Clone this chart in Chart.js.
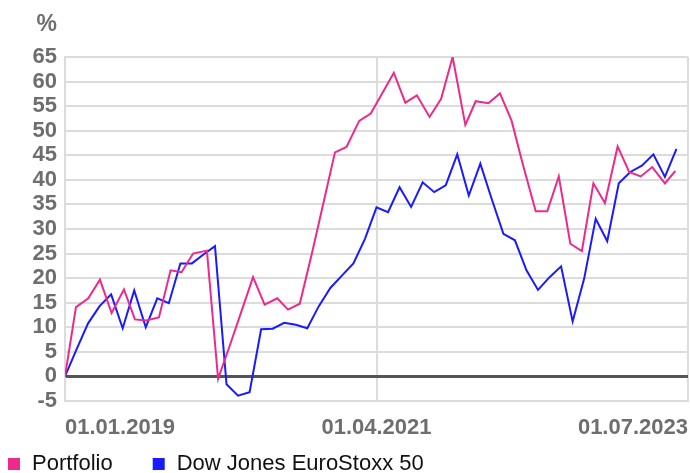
<!DOCTYPE html>
<html>
<head>
<title>Portfolio vs Dow Jones EuroStoxx 50</title>
<script src="https://cdn.jsdelivr.net/npm/chart.js"></script>
<style>
  html, body { margin: 0; padding: 0; background: #fff; }
  #wrap { width: 690px; height: 473px; }
</style>
</head>
<body>
<div id="wrap"><canvas id="perfChart"></canvas></div>
<script>
// months counted from 01.01.2019
const seriesNames = ['Portfolio', 'Dow Jones EuroStoxx 50'];
const dateLabels = ['01.01.2019', '01.04.2021', '01.07.2023'];
const dateTickMonths = [0, 27, 54];

const portfolioMonths = [0, 0.95, 2.02, 3.03, 4.04, 5.11, 6.06, 7.01, 8.14, 9.15, 10.1, 11.1, 12.3, 13.27,
  14.3, 15.3, 16.3, 17.3, 18.4, 19.33, 20.35, 21.4, 22.4, 23.4, 24.4, 25.5, 26.5, 27.5, 28.5, 29.5,
  30.5, 31.6, 32.6, 33.6, 34.7, 35.6, 36.7, 37.7, 38.7, 39.7, 40.8, 41.8, 42.8, 43.8, 44.8, 45.8,
  46.8, 47.9, 48.9, 49.9, 50.9, 52.0, 52.9];
const portfolioValues = [0, 14.1, 15.9, 19.7, 12.9, 17.7, 11.6, 11.4, 12, 21.6, 21.2, 25, 25.6, -0.5,
  6.4, 13.3, 20.2, 14.6, 15.9, 13.6, 14.8, 25, 35.3, 45.6, 46.7, 52, 53.5, 57.6, 61.8, 55.7,
  57.2, 52.8, 56.5, 65, 51.2, 56, 55.6, 57.6, 52.1, 43, 33.6, 33.6, 40.7, 27, 25.5, 39.3,
  35.3, 46.8, 41.6, 40.7, 42.6, 39.3, 41.8];

const indexMonths = [0, 1, 2, 3, 4, 5, 6, 7, 8, 9, 10, 11, 12, 13, 14, 15, 16, 17, 18, 19, 20, 21,
  22, 23, 24, 25, 26, 27, 28, 29, 30, 31, 32, 33, 34, 35, 36, 37, 38, 39, 40, 41, 42, 43, 44, 45,
  46, 47, 48, 49, 50, 51, 52, 53];
const indexValues = [0, 5.5, 10.8, 14.3, 16.7, 9.8, 17.5, 10, 15.9, 14.9, 23, 23, 24.8, 26.5,
  -1.6, -3.9, -3.2, 9.6, 9.7, 10.9, 10.5, 9.8, 14.3, 18, 20.5, 23, 28, 34.4, 33.4, 38.5,
  34.5, 39.5, 37.5, 38.9, 45.2, 36.8, 43.3, 36, 29, 27.7, 21.6, 17.6, 20.2, 22.4, 11.2, 19.9,
  32.1, 27.5, 39.3, 41.6, 42.9, 45.2, 40.6, 46.3];

const FONT = '"Liberation Sans", Arial, sans-serif';
const TICK_GREY = '#6e6e6e';
const GRID_GREY = '#dcdcdc';

function toPoints(xs, ys) {
  return xs.map((x, i) => ({ x: x, y: ys[i] }));
}

// "%" over the y axis and the legend along the bottom
const extraText = {
  id: 'extraText',
  afterDraw(chart) {
    const ctx = chart.ctx;
    const yScale = chart.scales.y;
    ctx.save();
    ctx.font = 'bold 23px ' + FONT;
    ctx.fillStyle = TICK_GREY;
    ctx.textAlign = 'right';
    ctx.textBaseline = 'alphabetic';
    ctx.fillText('%', yScale.right - 8, 31);

    ctx.font = '22px ' + FONT;
    ctx.textAlign = 'left';
    let x = 8;
    chart.data.datasets.forEach(ds => {
      ctx.fillStyle = ds.borderColor;
      ctx.fillRect(x, 458, 12, 12);
      ctx.fillStyle = '#111';
      ctx.fillText(ds.label, x + 24, 470);
      x += 24 + ctx.measureText(ds.label).width + 40;
    });
    ctx.restore();
  }
};

const ctx = document.getElementById('perfChart').getContext('2d');
new Chart(ctx, {
  type: 'line',
  data: {
    datasets: [{
      label: seriesNames[0],
      data: toPoints(portfolioMonths, portfolioValues),
      borderColor: '#ec2a8c',
      borderWidth: 2,
      pointRadius: 0,
      tension: 0
    }, {
      label: seriesNames[1],
      data: toPoints(indexMonths, indexValues),
      borderColor: '#1a1aff',
      borderWidth: 2,
      pointRadius: 0,
      tension: 0
    }]
  },
  options: {
    responsive: true,
    maintainAspectRatio: false,
    animation: false,
    layout: { padding: { left: 0, right: 2, top: 57, bottom: 32 } },
    plugins: {
      legend: { display: false },
      tooltip: { enabled: false }
    },
    scales: {
      x: {
        type: 'linear',
        min: 0,
        max: 54,
        afterBuildTicks: scale => {
          scale.ticks = dateTickMonths.map(v => ({ value: v }));
        },
        afterFit: scale => {
          scale.height = 40;
          scale.paddingLeft = 0;
          scale.paddingRight = 0;
        },
        grid: { color: GRID_GREY, lineWidth: 2, drawTicks: false },
        border: { color: GRID_GREY, width: 2 },
        ticks: {
          align: 'inner',
          maxRotation: 0,
          autoSkip: false,
          padding: 14,
          color: TICK_GREY,
          font: { family: FONT, size: 22, weight: 'bold' },
          callback: v => dateLabels[dateTickMonths.indexOf(v)]
        }
      },
      y: {
        min: -5,
        max: 65,
        afterFit: scale => { scale.width = 65; },
        grid: {
          drawTicks: false,
          color: c => (c.tick && c.tick.value === 0 ? '#555555' : GRID_GREY),
          lineWidth: c => (c.tick && c.tick.value === 0 ? 3 : 2)
        },
        border: { color: GRID_GREY, width: 2 },
        ticks: {
          stepSize: 5,
          autoSkip: false,
          padding: 8,
          color: TICK_GREY,
          font: { family: FONT, size: 22, weight: 'bold' }
        }
      }
    }
  },
  plugins: [extraText]
});
</script>
</body>
</html>
